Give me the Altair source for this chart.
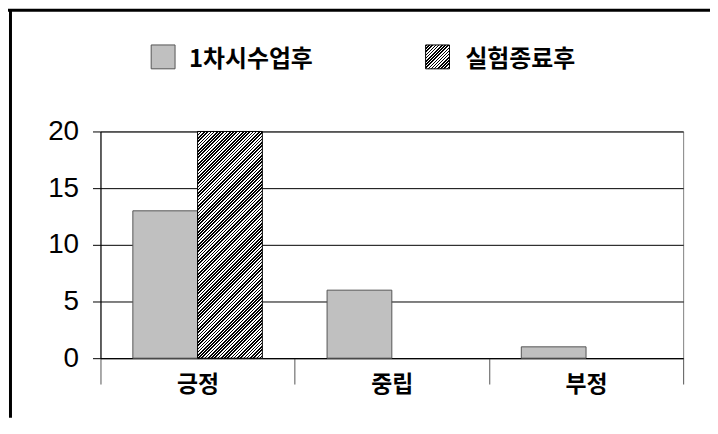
import altair as alt
import pandas as pd

categories = ["긍정", "중립", "부정"]
series = ["1차시수업후", "실험종료후"]
values_first = [13, 6, 1]
values_final = [20, 0, 0]
y_ticks = [0, 5, 10, 15, 20]

rows = []
for c, v in zip(categories, values_first):
    rows.append({"category": c, "series": series[0], "value": v})
for c, v in zip(categories, values_final):
    rows.append({"category": c, "series": series[1], "value": v})
df = pd.DataFrame(rows)

W, H = 586, 228
PAD_L, PAD_T, PAD_R, PAD_B = 93, 123, 27, 60
KFONT = "Noto Sans CJK KR"
NFONT = "Liberation Sans"


def hatch(w, h, period=2.3):
    s = (w + h) / (w * w + h * h)
    n = max(1, round((w + h) / 2 ** 0.5 / period))
    stops = []
    for i in range(n):
        a, m, b = i / n, (i + 0.5) / n, (i + 1) / n
        stops += [
            {"offset": a, "color": "#000000"},
            {"offset": m, "color": "#000000"},
            {"offset": m, "color": "#ffffff"},
            {"offset": b, "color": "#ffffff"},
        ]
    return {"gradient": "linear", "x1": 0, "y1": 0, "x2": w * s, "y2": h * s, "stops": stops}


bar_w = W / 3 / 3
bar_fill = hatch(bar_w, H)
legend_fill = hatch(24, 24)

x_enc = alt.X(
    "category:N",
    sort=categories,
    scale=alt.Scale(paddingInner=0, paddingOuter=0),
    axis=alt.Axis(
        title=None, labelAngle=0, tickBand="extent", tickSize=26, tickColor="#555555",
        domainColor="#000000", labelFont=KFONT, labelFontSize=23, labelFontWeight="bold",
        labelColor="#000000", labelBaseline="middle", labelPadding=1, grid=False,
    ),
)
xo_enc = alt.XOffset("series:N", sort=series,
                     scale=alt.Scale(domain=series, paddingInner=0, paddingOuter=0.5))
y_enc = alt.Y(
    "value:Q",
    scale=alt.Scale(domain=[0, 20], nice=False),
    axis=alt.Axis(
        title=None, values=y_ticks, tickSize=8, tickColor="#000000", domainColor="#000000",
        grid=True, gridColor="#000000", gridWidth=1, labelFont=NFONT, labelFontSize=28,
        labelColor="#000000", labelPadding=14,
    ),
)

base = alt.Chart(df)
bars1 = base.transform_filter(alt.datum.series == series[0]).mark_bar(
    fill="#c0c0c0", stroke="#555555", strokeWidth=1
).encode(x=x_enc, xOffset=xo_enc, y=y_enc)
bars2 = base.transform_filter(
    (alt.datum.series == series[1]) & (alt.datum.value > 0)
).mark_bar(fill=bar_fill, stroke="#000000", strokeWidth=1).encode(x=x_enc, xOffset=xo_enc, y=y_enc)

one = alt.Data(values=[{"k": 1}])
leg = []
sq_x = [51, 327]
tx_x = [89, 367]
fills = ["#c0c0c0", legend_fill]
strokes = ["#555555", "#000000"]
for i, name in enumerate(series):
    leg.append(alt.Chart(one).mark_rect(fill=fills[i], stroke=strokes[i], strokeWidth=1).encode(
        x=alt.value(sq_x[i]), x2=alt.value(sq_x[i] + 24), y=alt.value(-87), y2=alt.value(-63)))
    leg.append(alt.Chart(one).mark_text(
        font=KFONT, fontSize=24, fontWeight="bold", align="left", baseline="middle", color="#000000"
    ).encode(x=alt.value(tx_x[i]), y=alt.value(-72), text=alt.value(name)))

frame_top = alt.Chart(one).mark_rule(color="#000000", strokeWidth=3).encode(
    x=alt.value(-93), x2=alt.value(W + PAD_R), y=alt.value(-122))
frame_left = alt.Chart(one).mark_rule(color="#000000", strokeWidth=3).encode(
    x=alt.value(-90.5), y=alt.value(-123), y2=alt.value(H + PAD_B))

chart = alt.layer(bars1, bars2, *leg, frame_top, frame_left).properties(
    width=W, height=H,
    autosize=alt.AutoSizeParams(type="none"),
    padding={"left": PAD_L, "top": PAD_T, "right": PAD_R, "bottom": PAD_B},
    background="#ffffff",
).configure_view(stroke="#808080", strokeWidth=1)

chart.save("out.html", embed_options={"renderer": "svg", "actions": False})
